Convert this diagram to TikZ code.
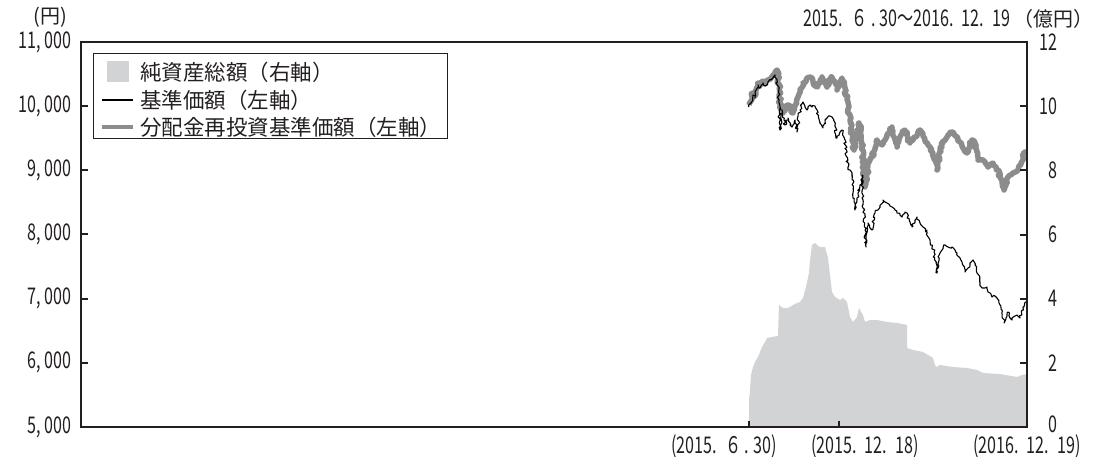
\documentclass[tikz,border=0pt]{standalone}
\usepackage{fontspec}
\usetikzlibrary{decorations.pathmorphing}
\setmainfont{Noto Sans CJK JP}
\newfontfamily\numfont[FakeStretch=0.7]{Noto Sans CJK JP}
\definecolor{assetgray}{HTML}{D2D3D4}
\definecolor{reinvgray}{HTML}{8C8C8C}
\definecolor{framegray}{HTML}{231F20}
\newcommand{\gap}{\hspace{8pt}}
\tikzset{
  numlabel/.style={font=\numfont\fontsize{23}{26}\selectfont, inner sep=0pt, text=framegray},
  legendtext/.style={font=\fontsize{21.5}{24}\selectfont, anchor=west, inner sep=0pt, text=framegray},
  jitter/.style={decorate, decoration={random steps, segment length=2pt, amplitude=#1}},
  navline/.style={line width=1.1pt, black, line join=round},
  reinvline/.style={line width=5.5pt, reinvgray, line join=round},
  assetfill/.style={fill=assetgray, draw=none},
  frame/.style={line width=2pt, framegray},
  tick/.style={line width=2pt, framegray},
}
\begin{document}
\begin{tikzpicture}[x=1pt,y=-1pt]
  \pgfmathsetseed{7}
  \useasboundingbox (0,0) rectangle (1097,457);

  % net assets (right axis)
  \fill[assetfill] (749,427) -- (749,400) -- (750,390) -- (751,375) -- (753,367) -- (755,362) -- (758,357) -- (760,352) -- (762,347) -- (765,342) -- (767,338) -- (772,337) -- (777,336) -- (778,336) -- (779,305) -- (783,308) -- (788,308) -- (793,305) -- (797,303) -- (800,302) -- (803,298) -- (806,287) -- (809,273) -- (810,260) -- (812,245) -- (815,243) -- (818,246) -- (820,247) -- (825,247) -- (828,258) -- (830,275) -- (832,292) -- (835,297) -- (840,300) -- (843,298) -- (847,302) -- (850,317) -- (853,322) -- (857,317) -- (859,308) -- (861,312) -- (863,315) -- (865,322) -- (870,320) -- (877,320) -- (887,322) -- (897,323) -- (907,325) -- (907,348) -- (913,350) -- (918,351) -- (923,352) -- (928,355) -- (933,358) -- (935,365) -- (936,367) -- (940,365) -- (953,367) -- (967,368) -- (977,370) -- (983,373) -- (1000,374) -- (1017,377) -- (1022,375) -- (1027,374) -- (1027,427) -- cycle;

  % reinvested NAV
  \draw[reinvline, jitter=1.5pt] plot coordinates {(749,105) (751,101) (753,93) (755,96) (758,83) (760,86) (763,81) (765,84) (768,80) (771,78) (773,75) (775,72) (777,70) (779,85) (780,103) (782,110) (783,113) (786,108) (788,105) (791,110) (793,113) (795,105) (798,97) (800,90) (803,83) (806,80) (810,77) (813,82) (817,87) (820,80) (822,77) (825,83) (827,87) (830,80) (832,77) (835,83) (837,90) (840,82) (842,78) (845,88) (847,100) (848,110) (850,120) (852,133) (854,150) (857,137) (859,123) (861,135) (862,147) (864,170) (865,187) (867,175) (868,167) (870,160) (872,157) (875,148) (877,140) (880,143) (882,145) (885,140) (887,137) (890,132) (892,127) (895,140) (897,147) (900,137) (903,133) (905,130) (908,138) (910,143) (913,140) (915,137) (918,133) (920,130) (923,136) (925,140) (928,145) (930,147) (933,153) (935,160) (937,170) (940,150) (943,143) (947,137) (950,134) (953,132) (957,137) (960,142) (963,148) (967,153) (970,145) (972,140) (975,143) (978,160) (980,160) (983,160) (986,164) (988,167) (991,164) (993,163) (996,167) (998,170) (1000,177) (1002,183) (1004,190) (1006,183) (1008,177) (1011,175) (1013,173) (1016,172) (1018,170) (1021,163) (1023,157) (1026,152)};

  % NAV
  \draw[navline, jitter=1.5pt] plot coordinates {(749,107) (751,103) (753,95) (755,98) (758,85) (760,88) (763,83) (765,86) (768,82) (771,80) (773,78) (775,75) (777,80) (779,100) (780,130) (782,110) (784,120) (785,125) (788,118) (790,125) (792,127) (795,120) (797,132) (800,110) (803,102) (805,106) (807,110) (810,105) (812,107) (815,106) (817,110) (820,122) (823,128) (825,120) (827,118) (830,116) (832,117) (835,125) (837,138) (840,132) (842,130) (845,140) (848,167) (850,170) (852,173) (853,193) (855,210) (857,200) (858,193) (860,185) (862,175) (863,200) (865,230) (866,247) (868,223) (870,228) (872,230) (875,213) (878,210) (880,207) (883,200) (887,203) (890,206) (892,207) (895,210) (897,213) (900,215) (902,217) (905,212) (907,213) (910,222) (912,227) (915,220) (917,217) (920,223) (923,227) (927,233) (930,240) (932,245) (934,252) (937,273) (940,253) (943,248) (945,245) (948,247) (952,247) (955,250) (957,253) (960,258) (962,262) (965,272) (968,268) (970,265) (973,260) (975,265) (977,273) (980,282) (982,288) (985,288) (987,287) (990,293) (992,297) (995,296) (997,298) (1000,305) (1002,310) (1004,323) (1006,318) (1008,312) (1010,318) (1012,320) (1015,316) (1017,315) (1020,318) (1023,307) (1026,302)};

  % frame and ticks
  \draw[frame] (81,42) rectangle (1027,427);
  \foreach \k in {6,...,10}
    \draw[tick] (81,{427-(\k-5)*64.17}) -- ++(7,0);
  \foreach \k in {2,4,...,10}
    \draw[tick] (1027,{427-\k*32.08}) -- ++(-7,0);
  \draw[tick] (749,427) -- ++(0,-6);
  \draw[tick] (839,427) -- ++(0,-6);

  % axis labels
  \foreach \k in {5,...,11}
    \node[numlabel, anchor=east] (yl\k) at (72,{427-(\k-5)*64.17}) {\k,\,000};
  \foreach \k in {2,4,...,10}
    \node[numlabel, anchor=east] (yr\k) at (1058,{427-\k*32.08}) {\k};
  \node[numlabel, anchor=east] (yr12) at (1058,42) {12};
  \node[numlabel, anchor=east] (yr0) at (1058,424) {0};
  \node[legendtext, anchor=center, font=\fontsize{20}{22}\selectfont] (yunit) at (50,17) {(円)};
  \node[numlabel, anchor=east] (period) at (1094,19) {2015.\gap ６\,.\,30～2016.\gap 12.\gap 19\,{\rmfamily\fontsize{20}{22}\selectfont（億円）}};
  \node[numlabel] (d1) at (724,446) {(2015.\gap ６\,.\,30)};
  \node[numlabel] (d2) at (865,446) {(2015.\gap 12.\gap 18)};
  \node[numlabel] (d3) at (1027,446) {(2016.\gap 12.\gap 19)};

  % legend
  \draw[line width=1pt, framegray] (93,54) rectangle (447,139);
  \fill[assetgray] (107,61) rectangle (129,82);
  \draw[navline] (102,100) -- (133,100);
  \draw[reinvline, line width=4pt] (102,127) -- (133,127);
  \node[legendtext] (legasset) at (140,72) {純資産総額（右軸）};
  \node[legendtext] (legnav) at (140,100) {基準価額（左軸）};
  \node[legendtext] (legreinv) at (140,127) {分配金再投資基準価額（左軸）};
\end{tikzpicture}
\end{document}
